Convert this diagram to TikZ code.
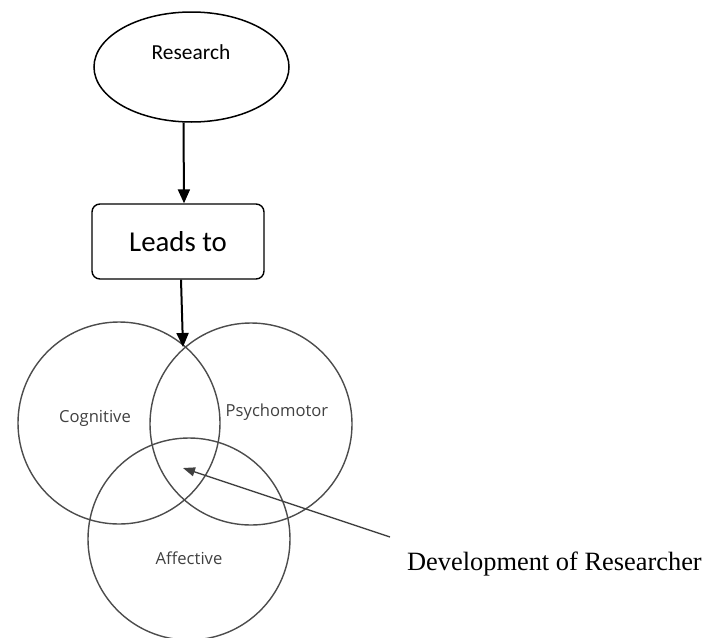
\documentclass[tikz,border=0pt]{standalone}
\usepackage{fontspec}
\setmainfont{Liberation Serif}
\newfontfamily\calibrifont{Carlito}
\newfontfamily\segoefont{Open Sans}
\usetikzlibrary{arrows.meta,shapes.geometric}
\tikzset{
  flow/.style={-{Triangle[width=6pt,length=7pt]}, line width=1pt},
  sphere/.style={circle, draw=black!70, line width=0.7pt, minimum size=101pt, inner sep=0pt},
  spheretext/.style={font=\segoefont\fontsize{8.3}{10}\selectfont, text=black!75},
}
\begin{document}
\begin{tikzpicture}[x=0.5pt,y=-0.5pt]
      \useasboundingbox (0,0) rectangle (705,637);
      \node[ellipse, draw, line width=0.75pt, minimum width=97.5pt, minimum height=55pt] (res) at (191.5,67) {};
      \node[font=\calibrifont\fontsize{10.7}{12}\selectfont] (restext) at (191,52) {Research};
      \node[draw, rounded corners=4pt, line width=0.7pt, minimum width=86pt, minimum height=37.5pt,
        font=\calibrifont\fontsize{14.4}{16}\selectfont] (leads) at (178,241.5) {Leads to};
      \node[sphere] (cog) at (119,423) {};
      \node[sphere] (psy) at (251,424) {};
      \node[sphere] (aff) at (189,539) {};
      \node[spheretext] (cogtext) at (95,418) {Cognitive};
      \node[spheretext] (psytext) at (277,412) {Psychomotor};
      \node[spheretext] (afftext) at (189,558) {Affective};
      \coordinate (meet) at (183,347);
      \coordinate (core) at (183,468);
      \coordinate (tail) at (390,537);
      \node[anchor=west, font=\fontsize{13.2}{15}\selectfont] (dev) at (400,564) {Development of Researcher};
      \begin{scope}[flow]
        \draw ([xshift=-4pt]res.south) -- ([xshift=3pt]leads.north);
        \draw ([xshift=1.5pt]leads.south) -- (meet);
      \end{scope}
      \draw[-{Triangle[width=4.5pt,length=6pt]}, line width=0.7pt, black!75] (tail) -- (core);
    \end{tikzpicture}
\end{document}
